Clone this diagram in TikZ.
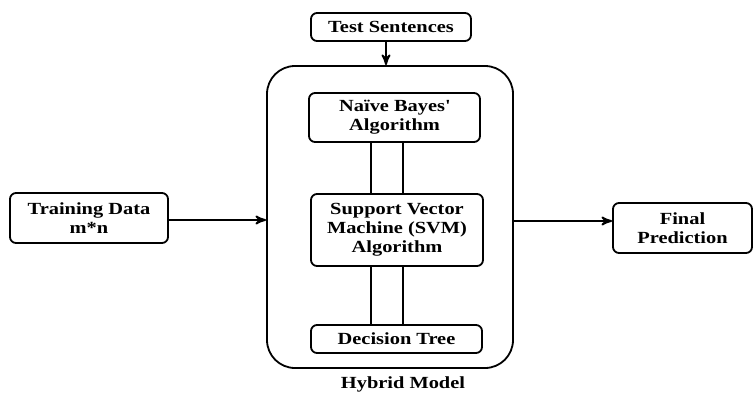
\documentclass[tikz,border=0pt]{standalone}
\usepackage{fontspec}
\setmainfont{Liberation Serif}[FakeStretch=1.2]
\usetikzlibrary{arrows,positioning}

\begin{document}
\begin{tikzpicture}[>=stealth',x=0.5pt,y=-0.5pt,line width=0.9pt,
    box/.style={draw,rounded corners=3pt,align=center,inner sep=1pt,
        font=\fontsize{8.5}{9.5}\selectfont\bfseries},
    hybrid/.style={draw,rounded corners=14pt,minimum width=123pt,minimum height=151pt},
    caption/.style={inner sep=0pt,font=\fontsize{8.5}{9.5}\selectfont\bfseries}]

    \useasboundingbox (0,0) rectangle (754,396);

    \node[hybrid] (hyb) at (390,217) {};
    \node[caption] (cap) [below=3.5pt of hyb,xshift=6.5pt] {Hybrid Model};

    \node[box,minimum width=80pt,minimum height=14pt] (test) at (391,27) {Test Sentences};
    \node[box,minimum width=85.5pt,minimum height=24.5pt] (nb) at (394.5,117.5) {Naïve Bayes\textquotesingle\\Algorithm};
    \node[box,minimum width=86pt,minimum height=36pt] (svm) at (397,230) {Support Vector\\Machine (SVM)\\Algorithm};
    \node[box,minimum width=85.5pt,minimum height=14pt] (dt) at (396.5,339) {Decision Tree};

    \node[box,minimum width=79pt,minimum height=25pt] (train) at (89,218) {Training Data\\m*n};
    \node[box,minimum width=69.5pt,minimum height=25pt] (final) at (682.5,228) {Final\\Prediction};

    % inputs and output of the hybrid model
    \draw[->] ([xshift=-2.5pt]test.south) -- ([xshift=-2.5pt]test.south |- hyb.north);
    \draw[->] ([yshift=-1pt]train.east) -- ([yshift=-1pt]train.east -| hyb.west);
    \draw[->] ([yshift=-2pt]hyb.east) -- ([yshift=-2pt]hyb.east -| final.west);

    % links between the three classifiers
    \foreach \dx in {-11.75pt,4.25pt} {
        \draw ([xshift=\dx]nb.south) -- ([xshift=\dx]nb.south |- svm.north);
        \draw ([xshift=\dx]nb.south |- svm.south) -- ([xshift=\dx]nb.south |- dt.north);
    }

\end{tikzpicture}
\end{document}
